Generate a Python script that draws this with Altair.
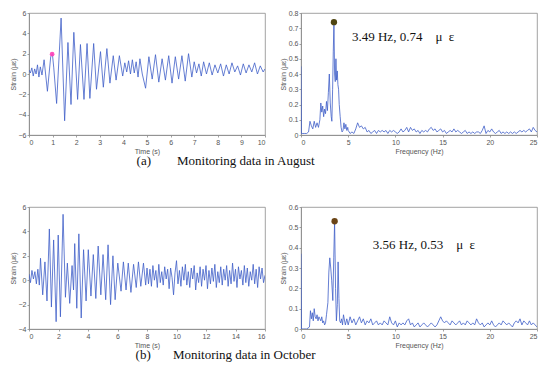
import altair as alt
import numpy as np
import pandas as pd

# ---------------- data ----------------
# (a) August, time history
aug_t = [0.00,0.06,0.12,0.18,0.24,0.30,0.36,0.42,0.48,0.55,
         0.64,0.78,0.92,0.99,1.05,1.17,1.36,1.51,1.65,1.78,
         1.90,2.06,2.18,2.33,2.46,2.58,2.74,2.86,3.03,3.15,
         3.30,3.43,3.57,3.69,3.83,3.97,4.06,4.14,4.22,4.30,
         4.38,4.46,4.54,4.62,4.70,4.80,4.94,5.08,5.22,5.36,
         5.50,5.64,5.78,5.92,6.06,6.20,6.34,6.48,6.62,6.76,
         6.90,7.00,7.10,7.20,7.30,7.40,7.52,7.64,7.76,7.88,
         8.00,8.12,8.24,8.36,8.48,8.60,8.72,8.84,8.96,9.08,
         9.20,9.32,9.44,9.56,9.68,9.80,9.92,10.00]
aug_v = [0.4,0.1,0.6,-0.2,0.5,0.0,0.9,-0.3,0.7,-0.1,
         1.4,-1.7,1.7,2.0,0.6,-2.9,5.5,-4.6,3.1,-3.0,
         4.1,-2.5,2.9,-2.5,3.0,-2.4,3.0,-1.5,2.2,-1.3,
         2.5,-0.9,1.8,-0.6,1.8,-0.2,1.1,0.2,1.3,0.0,
         1.4,0.1,1.2,-0.3,1.5,0.0,-1.4,1.7,-0.5,1.9,
         -0.8,1.5,-0.6,1.8,-0.9,1.7,-0.5,1.8,-0.7,2.0,
         -0.3,1.2,0.1,1.0,-0.2,1.2,0.0,1.1,-0.1,0.9,
         0.1,1.0,-0.2,0.9,0.0,1.1,0.2,0.8,-0.1,1.0,
         0.1,0.9,0.2,1.1,0.0,0.8,0.2,0.5]
aug_mark_t = [0.98]
aug_mark_v = [1.95]

# (b) October, time history
oct_t1 = [0.0,0.1,0.2,0.3,0.4,0.5,0.6,0.7,
          0.78,0.93,1.08,1.22,1.38,1.52,1.67,1.84,1.98,2.13,
          2.31,2.47,2.60,2.76,2.92,3.02,3.10,3.24,3.38,3.54,
          3.70,3.87,4.02,4.20,4.36,4.53,4.69,4.87,5.02,5.20,
          5.36,5.53,5.69,5.84,6.02,6.24,6.40,6.58,6.73,6.91,
          7.09,7.27,7.42,7.58,7.76,7.91]
oct_v1 = [0.5,-0.2,0.8,0.1,0.7,-0.3,0.9,-0.4,
          1.8,-1.2,1.5,-1.7,4.2,-2.2,3.3,-3.4,3.7,-3.0,
          5.4,-1.4,1.4,-1.9,1.2,-0.8,3.0,-2.3,3.8,-3.1,
          2.5,-1.7,2.5,-1.3,2.1,-1.5,2.8,-1.2,2.1,-1.6,
          2.9,-2.0,2.0,-1.6,1.4,-0.9,1.5,-0.8,1.4,-1.0,
          1.3,-0.6,1.5,-0.5,1.4,-0.4]
oct_t2 = list(np.round(np.arange(8.0, 16.001, 0.1), 1))
oct_v2 = [1.0,-0.3,0.9,-0.5,1.2,0.0,0.8,-0.6,1.3,-0.2,
          0.7,-0.4,1.1,0.1,0.9,-0.7,1.0,0.2,-1.2,0.6,
          1.6,-0.3,0.8,-0.5,1.1,0.0,1.3,-0.4,0.7,-0.6,
          1.0,0.1,1.2,-0.8,0.6,-0.2,1.1,-0.5,0.9,0.0,
          1.2,-0.7,0.8,-0.3,1.0,-0.1,1.3,-0.6,0.7,-0.2,
          1.1,-0.4,0.9,0.0,1.2,-0.5,0.8,-0.3,1.4,-0.1,
          0.9,-0.6,1.1,0.1,0.8,-0.4,1.2,-0.2,1.0,-0.5,
          0.7,0.0,1.3,-0.3,0.9,-0.6,1.1,0.1,1.0,-0.2,0.4]

# (a) August, spectrum
aug_f1 = [0.0,0.05,0.2,0.4,0.6,0.8,0.95,1.1,1.25,1.4,1.55,1.7,1.85,2.0,2.1,2.2,2.3,2.4,2.5,2.6,
          2.7,2.8,2.9,3.0,3.1,3.2,3.27,3.35,3.42,3.49,3.56,3.63,3.70,3.77,3.84,3.91,3.98,4.05,4.15,4.25,
          4.35,4.45,4.55,4.65,4.75,4.85,4.95]
aug_a1 = [0.45,0.01,0.01,0.01,0.01,0.02,0.09,0.06,0.04,0.09,0.05,0.08,0.05,0.10,0.21,0.15,0.19,0.12,0.17,0.14,
          0.22,0.16,0.28,0.40,0.21,0.12,0.09,0.30,0.55,0.74,0.40,0.35,0.50,0.36,0.42,0.33,0.30,0.20,0.12,0.05,
          0.02,0.03,0.08,0.04,0.07,0.03,0.05]
spec_grid = list(np.round(np.arange(5.0, 25.001, 0.2), 1))
aug_a2 = [0.03,0.01,0.02,0.01,0.04,0.08,0.05,0.06,0.04,0.05,
          0.02,0.03,0.01,0.02,0.03,0.01,0.03,0.02,0.03,0.02,
          0.03,0.01,0.03,0.02,0.03,0.02,0.01,0.02,0.04,0.02,
          0.03,0.05,0.02,0.05,0.03,0.04,0.02,0.03,0.01,0.03,
          0.02,0.03,0.02,0.04,0.05,0.03,0.04,0.02,0.03,0.04,
          0.02,0.03,0.01,0.02,0.03,0.02,0.04,0.02,0.03,0.02,
          0.01,0.02,0.03,0.01,0.02,0.01,0.02,0.01,0.02,0.02,
          0.01,0.03,0.06,0.01,0.03,0.02,0.04,0.02,0.01,0.02,
          0.03,0.01,0.02,0.01,0.02,0.01,0.02,0.01,0.02,0.01,
          0.02,0.03,0.02,0.03,0.02,0.03,0.04,0.02,0.05,0.03,0.02]

# (b) October, spectrum
oct_f1 = [0.0,0.05,0.3,0.6,0.9,1.0,1.1,1.2,1.3,1.4,1.5,1.6,1.7,1.8,1.9,2.0,2.1,2.2,2.3,2.4,
          2.5,2.6,2.7,2.85,2.95,3.05,3.15,3.25,3.37,3.47,3.56,3.66,3.75,3.85,3.93,4.02,4.1,4.2,4.3,4.4,
          4.5,4.7,4.85]
oct_a1 = [0.37,0.0,0.0,0.0,0.01,0.09,0.05,0.08,0.04,0.10,0.06,0.05,0.07,0.04,0.06,0.05,0.04,0.06,0.03,0.04,
          0.02,0.03,0.07,0.13,0.28,0.35,0.30,0.24,0.14,0.35,0.53,0.20,0.04,0.12,0.33,0.15,0.04,0.03,0.05,0.02,
          0.07,0.02,0.05]
oct_a2 = [0.02,0.06,0.03,0.05,0.02,0.04,0.06,0.03,0.05,0.02,
          0.04,0.03,0.05,0.02,0.03,0.04,0.02,0.03,0.02,0.04,
          0.03,0.02,0.06,0.03,0.02,0.04,0.01,0.03,0.02,0.03,
          0.02,0.04,0.05,0.02,0.03,0.01,0.02,0.03,0.01,0.02,
          0.03,0.02,0.01,0.02,0.03,0.02,0.01,0.02,0.04,0.06,
          0.04,0.03,0.04,0.03,0.02,0.04,0.03,0.02,0.03,0.04,
          0.02,0.03,0.02,0.04,0.03,0.02,0.03,0.02,0.05,0.03,
          0.02,0.03,0.01,0.02,0.03,0.02,0.04,0.02,0.01,0.02,
          0.03,0.02,0.04,0.03,0.02,0.03,0.02,0.01,0.03,0.04,
          0.03,0.05,0.02,0.04,0.03,0.02,0.04,0.02,0.03,0.02,0.01]

aug_peak = {"x": [3.49], "y": [0.74]}
oct_peak = {"x": [3.56], "y": [0.53]}
aug_label = {"x": [5.4], "y": [0.64], "text": ["3.49 Hz, 0.74\u2003\u03bc\u2002\u03b5"]}
oct_label = {"x": [7.6], "y": [0.415], "text": ["3.56 Hz, 0.53\u2003\u03bc\u2002\u03b5"]}

caption_a = "(a)\u2003\u2003Monitoring data in August"
caption_b = "(b)\u2003\u2002\u2009Monitoring data in October"

# ---------------- chart ----------------
LINE = "#3f5ec8"
W, H = 236, 122
SANS = "Liberation Sans"
SERIF = "Liberation Serif"

def axis(vals, title, fmt):
    return alt.Axis(values=vals, title=title, format=fmt, grid=False, labelFont=SANS, titleFont=SANS,
                    labelFontSize=7, titleFontSize=7, labelColor="#555555", titleColor="#555555",
                    titleFontWeight="normal", domainColor="#8a8a8a", tickColor="#8a8a8a", tickSize=2,
                    labelPadding=1, titlePadding=2, domainWidth=0.8, tickWidth=0.8, labelOverlap=False)

def encs(xdom, xvals, ydom, yvals, xtitle, yfmt):
    x = alt.X("x:Q", scale=alt.Scale(domain=xdom, nice=False, zero=False), axis=axis(xvals, xtitle, "d"))
    y = alt.Y("y:Q", scale=alt.Scale(domain=ydom, nice=False, zero=False),
              axis=axis(yvals, "Strain (\u03bc\u03b5)", yfmt))
    return x, y

dfA = pd.DataFrame({"x": aug_t, "y": aug_v})
dfC = pd.DataFrame({"x": oct_t1 + oct_t2, "y": oct_v1 + oct_v2})
dfB = pd.DataFrame({"x": aug_f1 + spec_grid, "y": aug_a1 + aug_a2})
dfD = pd.DataFrame({"x": oct_f1 + spec_grid, "y": oct_a1 + oct_a2})

xA, yA = encs([0, 10], list(range(0, 11)), [-6, 6], [-6, -4, -2, 0, 2, 4, 6], "Time (s)", "d")
A_line = alt.Chart(dfA).mark_line(color=LINE, strokeWidth=0.8, clip=True).encode(x=xA, y=yA)
A_mark = alt.Chart(pd.DataFrame({"x": aug_mark_t, "y": aug_mark_v})).mark_point(
    filled=True, color="#ff3fb8", size=22, opacity=0.9).encode(x=xA, y=yA)
A = alt.layer(A_line, A_mark).properties(width=W, height=H)

xC, yC = encs([0, 16], list(range(0, 17, 2)), [-4, 6], [-4, -2, 0, 2, 4, 6], "Time (s)", "d")
C = alt.Chart(dfC).mark_line(color=LINE, strokeWidth=0.8, clip=True).encode(x=xC, y=yC).properties(width=W, height=H)

def spec(df, ydom, yvals, peak, label, pcolor):
    x, y = encs([0, 25], [0, 5, 10, 15, 20, 25], ydom, yvals, "Frequency (Hz)", ".1~f")
    line = alt.Chart(df).mark_line(color=LINE, strokeWidth=0.8, clip=True).encode(x=x, y=y)
    dot = alt.Chart(pd.DataFrame(peak)).mark_point(filled=True, color=pcolor, size=40, opacity=1).encode(x=x, y=y)
    txt = alt.Chart(pd.DataFrame(label)).mark_text(align="left", baseline="middle", font=SERIF,
                                                   fontSize=13, color="#111").encode(x=x, y=y, text="text:N")
    return alt.layer(line, dot, txt).properties(width=W, height=H)

B = spec(dfB, [0, 0.8], [0, 0.1, 0.2, 0.3, 0.4, 0.5, 0.6, 0.7, 0.8], aug_peak, aug_label, "#4f4512")
D = spec(dfD, [0, 0.6], [0, 0.1, 0.2, 0.3, 0.4, 0.5, 0.6], oct_peak, oct_label, "#6b4516")

def cap(text, dx):
    return alt.TitleParams(text=text, orient="bottom", anchor="start", dx=dx, offset=1,
                           font=SERIF, fontSize=13, fontWeight="normal", color="#111")

row1 = alt.hconcat(A, B, spacing=12).properties(title=cap(caption_a, 128))
row2 = alt.hconcat(C, D, spacing=12).properties(title=cap(caption_b, 127))

chart = alt.vconcat(row1, row2, spacing=33).properties(
    padding={"left": 0, "top": 0, "right": 0, "bottom": 0}, background="white"
).configure_view(stroke="#8a8a8a", strokeWidth=0.8)

chart.save("out.html", embed_options={"renderer": "svg", "actions": False})
